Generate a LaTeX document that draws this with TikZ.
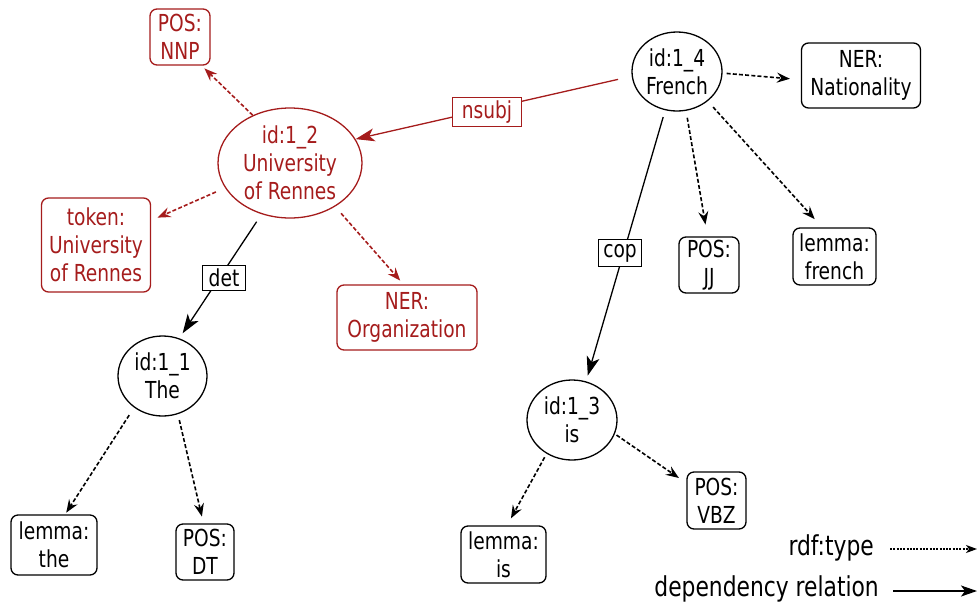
\documentclass[tikz,border=0pt]{standalone}
\usepackage{fontspec}
\setmainfont[FakeStretch=0.885]{DejaVu Sans Condensed}
\usetikzlibrary{shapes.geometric,arrows.meta}
\definecolor{dred}{RGB}{165,28,28}
\tikzset{
  every node/.style={font=\fontsize{23.4}{28}\selectfont, align=center, inner sep=0pt},
  tok/.style={ellipse, draw, line width=1.3pt},
  lit/.style={rectangle, rounded corners=7pt, draw, line width=1.3pt},
  lbl/.style={rectangle, draw, line width=1.1pt, fill=white, font=\fontsize{23.4}{26}\selectfont},
  rdf/.style={line width=1.6pt, dash pattern=on 4pt off 2.2pt, -{Stealth[length=13pt,width=10pt,inset=4.5pt]}},
  dep/.style={line width=1.3pt, -{Stealth[length=19pt,width=13pt,inset=5pt]}},
  redc/.style={draw=dred, text=dred},
  legtxt/.style={anchor=east, font=\fontsize{27.4}{30}\selectfont},
}
\begin{document}
\begin{tikzpicture}[x=1pt,y=-1pt]
\useasboundingbox (0,0) rectangle (980,606);
% token nodes
\node[tok, redc, minimum width=144pt, minimum height=110pt] (id12) at (290,163) {id:1\_2\\University\\of Rennes};
\node[tok, minimum width=89pt, minimum height=80pt] (id11) at (162.5,376) {id:1\_1\\The};
\node[tok, minimum width=90pt, minimum height=80pt] (id13) at (572,420) {id:1\_3\\is};
\node[tok, minimum width=90pt, minimum height=79pt] (id14) at (677,71.5) {id:1\_4\\French};
% literal boxes
\node[lit, redc, minimum width=60pt, minimum height=56pt] (nnp) at (180,37) {POS:\\NNP};
\node[lit, redc, minimum width=109pt, minimum height=94pt] (tokn) at (96,245) {token:\\University\\of Rennes};
\node[lit, redc, minimum width=140pt, minimum height=65pt] (org) at (407,317.5) {NER:\\Organization};
\node[lit, minimum width=86pt, minimum height=60pt] (lthe) at (54,545) {lemma:\\the};
\node[lit, minimum width=58pt, minimum height=56pt] (dt) at (205,552) {POS:\\DT};
\node[lit, minimum width=85pt, minimum height=57pt] (lis) at (503.5,554.5) {lemma:\\is};
\node[lit, minimum width=59pt, minimum height=57pt] (vbz) at (716.5,500.5) {POS:\\VBZ};
\node[lit, minimum width=119pt, minimum height=65pt] (nat) at (861,75.5) {NER:\\Nationality};
\node[lit, minimum width=60pt, minimum height=56pt] (jj) at (709,265) {POS:\\JJ};
\node[lit, minimum width=83pt, minimum height=57pt] (lfr) at (834.5,256.5) {lemma:\\french};
% edges
\draw[dep, draw=dred, fill=dred, shorten <=14pt] (id14.186) -- (id12.20);
\draw[rdf, draw=dred, shorten >=4pt] (id12.128) -- (nnp.307);
\draw[rdf, draw=dred, shorten <=10pt, shorten >=7pt] (id12.201) -- (tokn.24);
\draw[rdf, draw=dred, shorten <=9pt, shorten >=5pt] (id12.316) -- (org.96);
\draw[dep, shorten <=9pt, shorten >=6pt] (id12.241) -- (id11.66);
\draw[rdf, shorten <=9pt, shorten >=2pt] (id11.228) -- (lthe.70);
\draw[rdf, shorten <=6pt, shorten >=7pt] (id11.292) -- (dt.93);
\draw[rdf, shorten <=4pt, shorten >=11pt] (id14.358) -- (nat.184);
\draw[rdf, shorten <=7pt, shorten >=12pt] (id14.283) -- (jj.93);
\draw[rdf, shorten <=8pt, shorten >=11pt] (id14.316) -- (lfr.113);
\draw[dep, shorten <=7pt, shorten >=6pt] (id14.253) -- (id13.70);
\draw[rdf, shorten <=4pt, shorten >=8pt] (id13.233) -- (lis.83);
\draw[rdf, shorten <=2pt, shorten >=9pt] (id13.342) -- (vbz.150);
% edge labels
\node[lbl, redc, minimum width=69pt, minimum height=29pt] (lnsubj) at (487,112) {nsubj};
\node[lbl, minimum width=43pt, minimum height=25pt] (ldet) at (224,278) {det};
\node[lbl, minimum width=43pt, minimum height=27pt] (lcop) at (620,253) {cop};
% legend
\node[legtxt] (legrdf) at (874,548) {rdf:type};
\node[legtxt] (legdep) at (879,589) {dependency relation};
\coordinate (r1) at (890,549);
\coordinate (r2) at (977,549);
\coordinate (d1) at (893,591);
\coordinate (d2) at (977,591);
\draw[line width=1.3pt, dash pattern=on 2pt off 1.3pt, -{Stealth[length=11pt,width=8pt,inset=3pt]}] (r1) -- (r2);
\draw[line width=1.4pt, -{Stealth[length=16pt,width=11pt,inset=4pt]}] (d1) -- (d2);
\end{tikzpicture}
\end{document}
